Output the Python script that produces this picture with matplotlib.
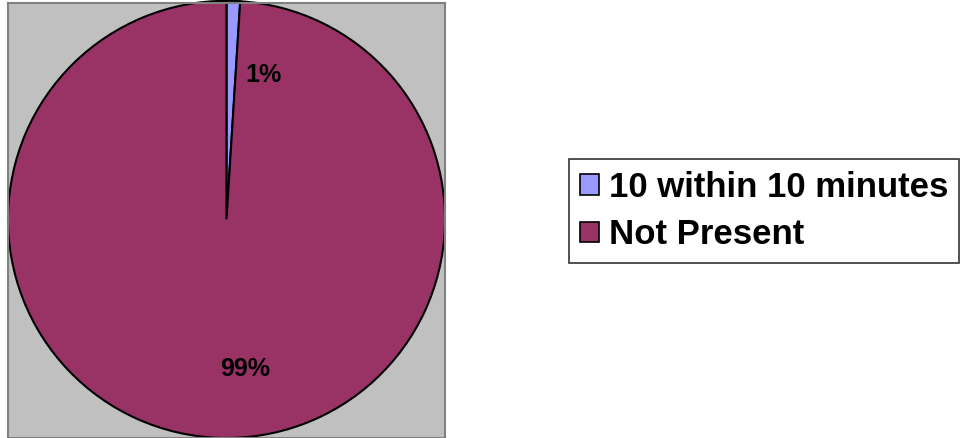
import matplotlib.pyplot as plt

labels = ['10 within 10 minutes', 'Not Present']
values = [1, 99]
pct_text = ['1%', '99%']
colors = ['#9999FF', '#993366']

fig = plt.figure(figsize=(9.68, 4.38), dpi=100)
ax = fig.add_axes([8 / 968, 0, 437 / 968, 435 / 438])

wedges, _ = ax.pie(values, colors=colors, startangle=90, counterclock=False,
                   radius=1.0, wedgeprops=dict(edgecolor='black', linewidth=1.5))
ax.set_frame_on(True)
ax.set_facecolor('#C0C0C0')
for s in ax.spines.values():
    s.set_color('#808080')
    s.set_linewidth(1.5)
ax.set_xticks([])
ax.set_yticks([])
ax.set_xlim(-1.0, 1.0)
ax.set_ylim(-1.0, 0.99)
ax.set_aspect('auto')

# label positions as Excel placed them
pos = [(0.17, 0.66), (0.087, -0.685)]
for t, p in zip(pct_text, pos):
    ax.text(p[0], p[1], t, ha='center', va='center', fontsize=18,
            fontweight='bold', family='Liberation Sans')

leg = fig.legend(wedges, labels, loc='center left',
                 bbox_to_anchor=(569 / 968, 1 - 211 / 438),
                 prop=dict(family='Liberation Sans', weight='bold', size=25),
                 frameon=True, fancybox=False, edgecolor='black',
                 handlelength=0.53, handleheight=0.53, handletextpad=0.28,
                 labelspacing=0.42, borderpad=0.33, borderaxespad=0)
leg.get_frame().set_linewidth(1.2)
for h in leg.legend_handles:
    h.set_linewidth(1.2)

fig.savefig('out.png', dpi=100)
